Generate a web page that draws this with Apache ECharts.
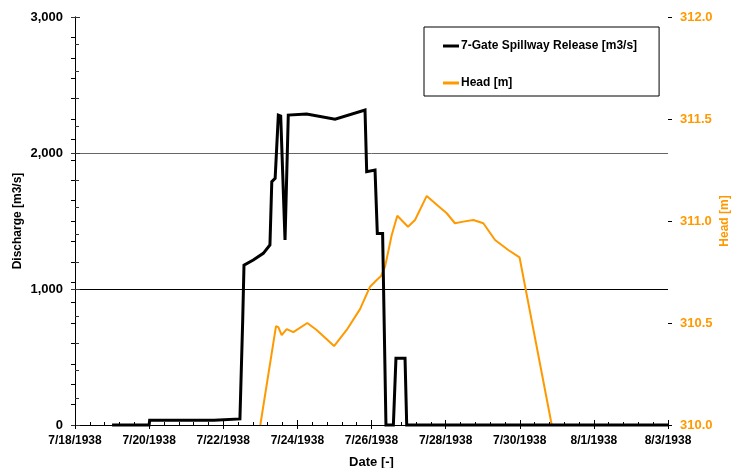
<!DOCTYPE html>
<html>
<head>
<meta charset="utf-8">
<title>7-Gate Spillway Release and Head</title>
<script src="https://cdn.jsdelivr.net/npm/echarts@6/dist/echarts.min.js"></script>
<style>
  html, body { margin: 0; padding: 0; background: #fff; }
  #chart { width: 732px; height: 468px; }
</style>
</head>
<body>
<div id="chart"></div>
<script>
// Date tick labels along the bottom axis (every 2 days)
const dateTicks = ['7/18/1938', '7/20/1938', '7/22/1938', '7/24/1938', '7/26/1938',
                   '7/28/1938', '7/30/1938', '8/1/1938', '8/3/1938'];

// 7-Gate spillway release [m3/s]
const releaseTimes = [
  '1938-07-19 00:00', '1938-07-20 00:00', '1938-07-20 00:20', '1938-07-21 18:00',
  '1938-07-21 18:20', '1938-07-22 10:48', '1938-07-22 12:36', '1938-07-22 13:26',
  '1938-07-22 19:26', '1938-07-23 01:55', '1938-07-23 06:14', '1938-07-23 07:26',
  '1938-07-23 09:36', '1938-07-23 11:40', '1938-07-23 13:12', '1938-07-23 16:00',
  '1938-07-23 18:07', '1938-07-24 06:00', '1938-07-25 00:23', '1938-07-25 19:48',
  '1938-07-25 20:53', '1938-07-26 02:17', '1938-07-26 03:46', '1938-07-26 07:12',
  '1938-07-26 09:22', '1938-07-26 14:10', '1938-07-26 15:50', '1938-07-26 21:43',
  '1938-07-26 22:48', '1938-08-03 00:00'
];
const releaseValues = [
  0, 0, 35, 35,
  45, 45, 772, 1176,
  1213, 1262, 1324, 1789,
  1814, 2279, 2272, 1360,
  2279, 2287, 2248, 2316,
  1863, 1875, 1409, 1409,
  0, 0, 490, 490,
  0, 0
];

// Reservoir head [m]
const headTimes = [
  '1938-07-23 00:00', '1938-07-23 10:10', '1938-07-23 11:40', '1938-07-23 13:50',
  '1938-07-23 17:05', '1938-07-23 21:22', '1938-07-24 06:26', '1938-07-24 12:29',
  '1938-07-24 23:46', '1938-07-25 07:55', '1938-07-25 16:34', '1938-07-25 23:03',
  '1938-07-26 03:22', '1938-07-26 06:10', '1938-07-26 08:46', '1938-07-26 13:06',
  '1938-07-26 16:43', '1938-07-26 23:38', '1938-07-27 04:11', '1938-07-27 11:46',
  '1938-07-27 19:12', '1938-07-28 00:43', '1938-07-28 06:02', '1938-07-28 11:28',
  '1938-07-28 17:56', '1938-07-29 00:25', '1938-07-29 08:00', '1938-07-29 16:34',
  '1938-07-29 23:51', '1938-07-30 20:43'
];
const headValues = [
  310.00, 310.485, 310.48, 310.44,
  310.47, 310.455, 310.50, 310.466,
  310.387, 310.466, 310.568, 310.678,
  310.711, 310.73, 310.776, 310.931,
  311.026, 310.972, 311.005, 311.123,
  311.074, 311.038, 310.989, 310.997,
  311.005, 310.989, 310.907, 310.858,
  310.822, 310.00
];

// Days elapsed since the first tick date (7/18/1938)
const ORIGIN = Date.UTC(1938, 6, 18);
function toDay(s) {
  const p = s.split(/[- :]/).map(Number);
  return (Date.UTC(p[0], p[1] - 1, p[2], p[3], p[4]) - ORIGIN) / 86400000;
}
function pairs(times, values) {
  return times.map((t, i) => [toDay(t), values[i]]);
}

const FONT = "'Liberation Sans', Arial, Helvetica, sans-serif";
const ORANGE = '#FF9900';
const DAY_SPAN = (Date.UTC(1938, 7, 3) - ORIGIN) / 86400000;

const chart = echarts.init(document.getElementById('chart'), null, { renderer: 'canvas' });

// Second bottom axis: only the outward half of the major ticks
const outerTickX = {
  type: 'value', position: 'bottom', min: 0, max: DAY_SPAN, interval: 2,
  axisLine: { show: false },
  axisTick: { show: true, inside: false, length: 4, lineStyle: { color: '#000' } },
  axisLabel: { show: false }, splitLine: { show: false }
};

chart.setOption({
  animation: false,
  backgroundColor: '#fff',
  grid: { left: 75, right: 64, top: 17, bottom: 43, containLabel: false, outerBoundsMode: 'none' },
  legend: {
    orient: 'vertical',
    left: 424, top: 27,
    padding: [13, 22, 7, 19],
    itemGap: 25,
    icon: 'rect',
    itemWidth: 16, itemHeight: 3,
    borderColor: '#000', borderWidth: 1,
    textStyle: { fontFamily: FONT, fontSize: 12, fontWeight: 'bold', color: '#000', padding: [0, 0, 0, -3] },
    data: ['7-Gate Spillway Release [m3/s]', 'Head [m]']
  },
  xAxis: [
    {
      type: 'value', min: 0, max: DAY_SPAN, interval: 2,
      name: 'Date [-]', nameLocation: 'middle', nameGap: 31, nameMoveOverlap: false,
      nameTextStyle: { fontFamily: FONT, fontSize: 13, fontWeight: 'bold', color: '#000' },
      axisLine: { show: true, lineStyle: { color: '#000', width: 1 } },
      axisTick: { show: true, inside: true, length: 5, lineStyle: { color: '#000' } },
      minorTick: { show: true, splitNumber: 5, length: 3, lineStyle: { color: '#000' } },
      axisLabel: {
        margin: 10, fontFamily: FONT, fontSize: 12, fontWeight: 'bold', color: '#000',
        formatter: v => dateTicks[Math.round(v / 2)] || ''
      },
      splitLine: { show: false }
    },
    outerTickX
  ],
  yAxis: [
    {
      type: 'value', min: 0, max: 3000, interval: 1000, position: 'left',
      name: 'Discharge [m3/s]', nameLocation: 'middle', nameGap: 51, nameRotate: 90,
      nameMoveOverlap: false,
      nameTextStyle: { fontFamily: FONT, fontSize: 12, fontWeight: 'bold', color: '#000' },
      axisLine: { show: true, lineStyle: { color: '#333', width: 1 } },
      axisTick: { show: true, inside: true, length: 5, lineStyle: { color: '#333' } },
      minorTick: { show: true, splitNumber: 5, length: 4, lineStyle: { color: '#333' } },
      axisLabel: {
        margin: 12, fontFamily: FONT, fontSize: 13, fontWeight: 'bold', color: '#000',
        formatter: v => v.toLocaleString('en-US')
      },
      splitLine: { show: true, lineStyle: { color: ['transparent', '#000', '#666', 'transparent'], width: 1 } }
    },
    {
      type: 'value', min: 310, max: 312, interval: 0.5, position: 'right',
      name: 'Head [m]', nameLocation: 'middle', nameGap: 51, nameRotate: 90,
      nameMoveOverlap: false,
      nameTextStyle: { fontFamily: FONT, fontSize: 12, fontWeight: 'bold', color: ORANGE },
      axisLine: { show: true, lineStyle: { color: '#000', width: 1 } },
      axisTick: { show: true, inside: true, length: 4, lineStyle: { color: '#000' } },
      minorTick: { show: true, splitNumber: 5, length: 4, lineStyle: { color: '#000' } },
      axisLabel: {
        margin: 12, fontFamily: FONT, fontSize: 13, fontWeight: 'bold', color: ORANGE,
        formatter: v => v.toFixed(1)
      },
      splitLine: { show: false }
    },
    {
      type: 'value', min: 0, max: 3000, interval: 1000, position: 'left',
      axisLine: { show: false },
      axisTick: { show: true, inside: false, length: 4, lineStyle: { color: '#333' } },
      axisLabel: { show: false }, splitLine: { show: false }
    },
    {
      type: 'value', min: 310, max: 312, interval: 0.5, position: 'right',
      axisLine: { show: false },
      axisTick: { show: true, inside: false, length: 4, lineStyle: { color: '#000' } },
      axisLabel: { show: false }, splitLine: { show: false }
    }
  ],
  series: [
    {
      name: 'Head [m]',
      type: 'line',
      xAxisIndex: 0, yAxisIndex: 1,
      data: pairs(headTimes, headValues),
      symbol: 'none',
      clip: false,
      lineStyle: { color: ORANGE, width: 2 },
      itemStyle: { color: ORANGE },
      z: 2
    },
    {
      name: '7-Gate Spillway Release [m3/s]',
      type: 'line',
      xAxisIndex: 0, yAxisIndex: 0,
      data: pairs(releaseTimes, releaseValues),
      symbol: 'none',
      clip: false,
      lineStyle: { color: '#000', width: 3, join: 'miter' },
      itemStyle: { color: '#000' },
      z: 3
    }
  ]
});
</script>
</body>
</html>
